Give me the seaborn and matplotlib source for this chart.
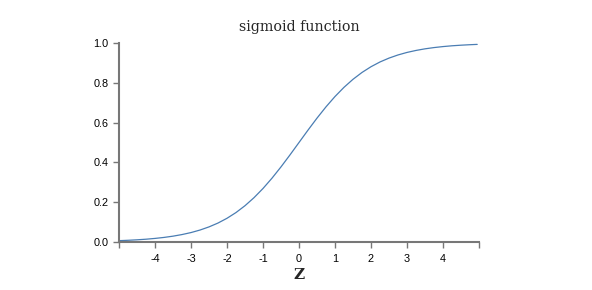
import matplotlib
matplotlib.use("Agg")
import matplotlib.pyplot as plt
import seaborn as sns
import pandas as pd

z_values = [-5.0, -4.75, -4.5, -4.25, -4.0, -3.75, -3.5, -3.25, -3.0, -2.75, -2.5, -2.25,
            -2.0, -1.75, -1.5, -1.25, -1.0, -0.75, -0.5, -0.25, 0.0, 0.25, 0.5, 0.75,
            1.0, 1.25, 1.5, 1.75, 2.0, 2.25, 2.5, 2.75, 3.0, 3.25, 3.5, 3.75, 4.0,
            4.25, 4.5, 4.75, 4.95]
sigmoid_values = [0.0067, 0.0086, 0.0110, 0.0140, 0.0180, 0.0230, 0.0293, 0.0374, 0.0474,
                  0.0601, 0.0759, 0.0953, 0.1192, 0.1480, 0.1824, 0.2227, 0.2689, 0.3208,
                  0.3775, 0.4378, 0.5000, 0.5622, 0.6225, 0.6792, 0.7311, 0.7773, 0.8176,
                  0.8520, 0.8808, 0.9047, 0.9241, 0.9399, 0.9526, 0.9626, 0.9707, 0.9770,
                  0.9820, 0.9860, 0.9890, 0.9914, 0.9930]
x_ticks = [-4, -3, -2, -1, 0, 1, 2, 3, 4]
y_ticks = [0.0, 0.2, 0.4, 0.6, 0.8, 1.0]
title = "sigmoid function"
x_label = "Z"

df = pd.DataFrame({"z": z_values, "s": sigmoid_values})

sns.set_style("white")
plt.rcParams["font.family"] = ["Liberation Sans", "DejaVu Sans"]

fig = plt.figure(figsize=(5.92, 2.90), dpi=100)
ax = fig.add_axes([119/592, 1 - 242/290, 360/592, 199/290])

sns.lineplot(data=df, x="z", y="s", ax=ax, color="#4a7db3", linewidth=0.9)

ax.set_xlim(-5, 5)
ax.set_ylim(0, 1)
ax.set_xticks(x_ticks)
ax.set_xticklabels([str(t) for t in x_ticks], fontsize=7.8)
ax.set_xticks([-5, 5], minor=True)
ax.set_yticks(y_ticks)
ax.set_yticklabels([f"{t:.1f}" for t in y_ticks], fontsize=7.8)

gray = "#777777"
for s in ["top", "right"]:
    ax.spines[s].set_visible(False)
for s in ["left", "bottom"]:
    ax.spines[s].set_color(gray)
    ax.spines[s].set_linewidth(1.5)
ax.tick_params(axis="both", which="both", direction="out", length=4.5, width=1.0,
               color=gray, labelcolor="black", pad=3, bottom=True, left=True)
ax.tick_params(axis="x", which="major", pad=4)

ax.set_xlabel(x_label, fontsize=11, fontweight="bold", family="DejaVu Serif", labelpad=3)
ax.set_ylabel("")
ax.set_title(title, fontsize=10.3, family="DejaVu Serif", pad=9)

fig.savefig("out.png", dpi=100)
